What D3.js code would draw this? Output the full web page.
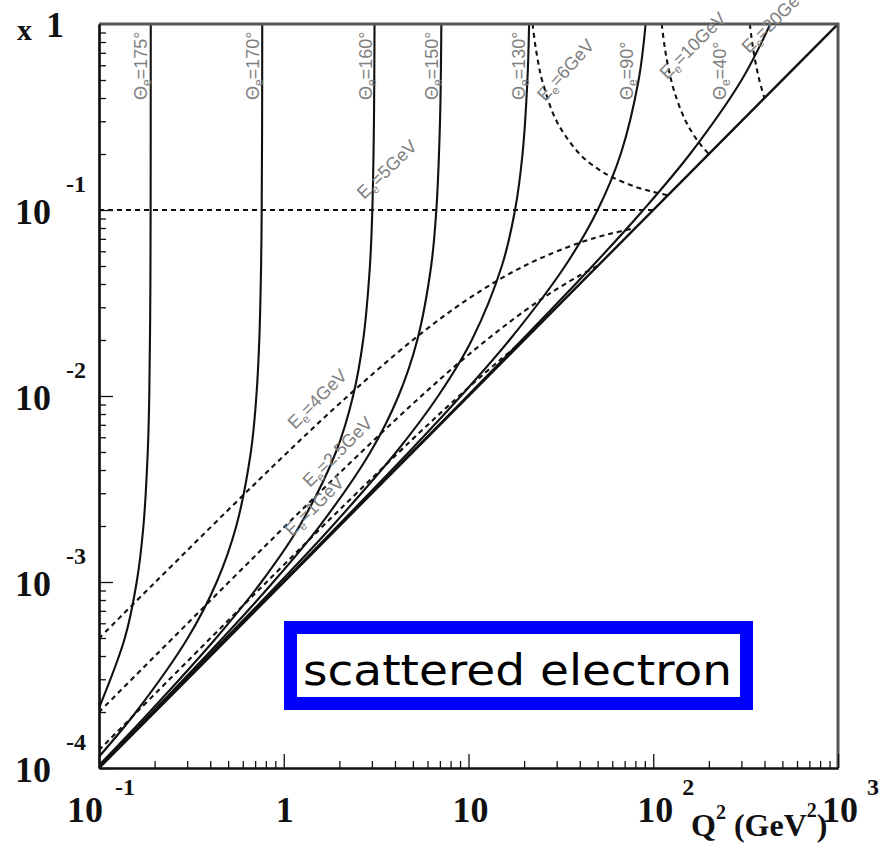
<!DOCTYPE html>
<html>
<head>
<meta charset="utf-8">
<script src="https://cdnjs.cloudflare.com/ajax/libs/d3/7.8.5/d3.min.js"></script>
<style>
  body { margin: 0; background: #fff; }
  .curve { fill: none; stroke: #111; stroke-width: 2.1; }
  .dash { fill: none; stroke: #111; stroke-width: 2.1; stroke-dasharray: 5,4; }
  .lab { font-family: "Liberation Sans", Arial, sans-serif; font-size: 18px; fill: #808080; }
  .tick-lab { font-family: "Liberation Serif", "Times New Roman", serif; font-weight: bold; fill: #111; }
</style>
</head>
<body>
<div id="chart"></div>
<script>
// constant electron angle lines, [Q2, x]
var theta175 = [[0.1,2.1e-4],[0.138,5e-4],[0.160,1e-3],[0.174,2e-3],[0.1836,5e-3],[0.1871,0.01],[0.1894,0.03],[0.1903,0.1],[0.1906,1]];
var theta170 = [[0.1,1.15e-4],[0.1586,2e-4],[0.3024,5e-4],[0.4336,1e-3],[0.5536,2e-3],[0.6638,5e-3],[0.711,0.01],[0.7372,0.02],[0.7539,0.05],[0.7596,0.1],[0.7635,0.3],[0.7648,1]];
var theta160 = [[0.1,1.033e-4],[0.1879,2e-4],[0.4307,5e-4],[0.7567,1e-3],[1.217,2e-3],[1.917,5e-3],[2.372,0.01],[2.691,0.02],[2.927,0.05],[3.016,0.1],[3.078,0.3],[3.1,1]];
var theta150 = [[0.1,1.014e-4],[0.1946,2e-4],[0.4675,5e-4],[0.8777,1e-3],[1.564,2e-3],[2.947,5e-3],[4.179,0.01],[5.283,0.02],[6.278,0.05],[6.698,0.1],[7.011,0.3],[7.128,1]];
var theta130 = [[0.1,1.005e-4],[0.956,1e-3],[1.832,2e-3],[4.065,5e-3],[6.849,0.01],[10.42,0.02],[15.15,0.05],[17.86,0.1],[19.61,0.2],[20.84,0.5],[21.28,1]];
var theta90 = [[0.1,1e-4],[0.99,1e-3],[4.762,5e-3],[9.091,0.01],[16.67,0.02],[33.33,0.05],[50,0.1],[66.67,0.2],[83.33,0.5],[90.91,1]];
var theta40 = [[0.1,1e-4],[9.87,0.01],[46.89,0.05],[88.3,0.1],[158.1,0.2],[300.8,0.5],[430.2,1]];
var thetaNames = ["175", "170", "160", "150", "130", "90", "40"];

// constant scattered electron energy lines, [Q2, x]
var energy1 = [[0.1,1.248e-4],[0.5,6.211e-4],[1,1.235e-3],[2,2.439e-3],[5,5.882e-3],[10,0.01111],[15,0.01579],[20,0.02]];
var energy25 = [[0.1,1.996e-4],[0.2,3.984e-4],[0.5,9.9e-4],[1,1.961e-3],[2,3.846e-3],[5,9.091e-3],[10,0.01667],[20,0.02857],[30,0.0375],[40,0.04444],[50,0.05]];
var energy4 = [[0.1,4.975e-4],[0.2,9.9e-4],[0.5,2.439e-3],[1,4.762e-3],[2,9.091e-3],[5,0.02],[10,0.03333],[20,0.05],[40,0.06667],[60,0.075],[80,0.08]];
var energy5 = [[0.1,0.1],[100,0.1]];
var energy6 = [[22.22,1],[23,0.767],[24,0.6],[25,0.5],[30,0.3],[40,0.2],[50,0.1667],[60,0.15],[80,0.1333],[100,0.125],[120,0.12]];
var energy10 = [[111.1,1],[115,0.7667],[120,0.6],[130,0.4333],[150,0.3],[175,0.2333],[200,0.2]];
var energy20 = [[333.3,1],[340,0.85],[350,0.7],[375,0.5],[400,0.4]];
var energyNames = ["1", "2.5", "4", "5", "6", "10", "20"];

// y = 1 kinematic limit
var yLimit = [[0.1,1e-4],[1000,1]];

var xTickLabels = [["10","-1"], ["1",""], ["10",""], ["10","2"], ["10","3"]];
var xTickValues = [0.1, 1, 10, 100, 1000];
var yTickLabels = [["10","-1"], ["10","-2"], ["10","-3"], ["10","-4"]];
var yTickValues = [0.1, 0.01, 0.001, 0.0001];

var width = 881, height = 859;
var xScale = d3.scaleLog().domain([0.1, 1000]).range([99, 838]);
var yScale = d3.scaleLog().domain([1e-4, 1]).range([768, 24]);

var svg = d3.select("#chart").append("svg")
  .attr("width", width)
  .attr("height", height);

svg.append("defs").append("clipPath")
  .attr("id", "clip")
  .append("rect")
  .attr("x", 99).attr("y", 24)
  .attr("width", 739).attr("height", 744);

var line = d3.line()
  .x(function(d) { return xScale(d[0]); })
  .y(function(d) { return yScale(d[1]); })
  .curve(d3.curveCatmullRom.alpha(0.5));

var plot = svg.append("g").attr("clip-path", "url(#clip)");

var thetaLines = [theta175, theta170, theta160, theta150, theta130, theta90, theta40];
var energyLines = [energy1, energy25, energy4, energy5, energy6, energy10, energy20];

plot.selectAll(".curve.theta")
  .data(thetaLines)
  .enter().append("path")
  .attr("class", "curve theta")
  .attr("d", line);

plot.append("path")
  .datum(yLimit)
  .attr("class", "curve")
  .style("stroke-width", 2.4)
  .attr("d", line);

plot.selectAll(".dash")
  .data(energyLines)
  .enter().append("path")
  .attr("class", "dash")
  .attr("d", line);

// frame, top and right
svg.append("path")
  .attr("d", "M99,24H838V768")
  .attr("fill", "none")
  .attr("stroke", "#555")
  .attr("stroke-width", 3);

// axes with inward ticks
var minorX = xScale.ticks().filter(function(v) { return xTickValues.indexOf(v) < 0; });
var minorY = yScale.ticks().filter(function(v) { return yTickValues.indexOf(v) < 0 && v !== 1; });

function styleAxis(g) {
  g.select(".domain").attr("stroke", "#111").attr("stroke-width", 2.2);
  g.selectAll(".tick line").attr("stroke", "#111").attr("stroke-width", 1.3);
  g.selectAll(".tick text").remove();
}

svg.append("g")
  .attr("transform", "translate(0,768)")
  .call(d3.axisBottom(xScale).tickValues(xTickValues).tickSize(-14).tickSizeOuter(0).tickFormat(""))
  .call(styleAxis);
svg.append("g")
  .attr("transform", "translate(0,768)")
  .call(d3.axisBottom(xScale).tickValues(minorX).tickSize(-7).tickSizeOuter(0).tickFormat(""))
  .call(styleAxis);
svg.append("g")
  .attr("transform", "translate(99,0)")
  .call(d3.axisLeft(yScale).tickValues(yTickValues).tickSize(-14).tickSizeOuter(0).tickFormat(""))
  .call(styleAxis);
svg.append("g")
  .attr("transform", "translate(99,0)")
  .call(d3.axisLeft(yScale).tickValues(minorY).tickSize(-7).tickSizeOuter(0).tickFormat(""))
  .call(styleAxis);

// tick labels
xTickValues.forEach(function(v, i) {
  var px = xScale(v);
  var base = xTickLabels[i][0], sup = xTickLabels[i][1];
  var shift = base === "1" ? -8 : (i === 0 ? -32 : -16);
  svg.append("text").attr("class", "tick-lab")
    .attr("x", px + shift).attr("y", 822)
    .style("font-size", "36px")
    .text(base);
  if (sup) {
    svg.append("text").attr("class", "tick-lab")
      .attr("x", px + shift + 36 + (i === 0 ? 12 : 9)).attr("y", 795)
      .style("font-size", "24px")
      .text(sup);
  }
});

yTickValues.forEach(function(v, i) {
  var py = yScale(v);
  svg.append("text").attr("class", "tick-lab")
    .attr("x", 15).attr("y", py + 14)
    .style("font-size", "36px")
    .text(yTickLabels[i][0]);
  svg.append("text").attr("class", "tick-lab")
    .attr("x", 66).attr("y", py - 18)
    .style("font-size", "24px")
    .text(yTickLabels[i][1]);
});

svg.append("text").attr("class", "tick-lab")
  .attr("x", 46).attr("y", yScale(1) + 13)
  .style("font-size", "36px").text("1");
svg.append("text").attr("class", "tick-lab")
  .attr("x", 17).attr("y", 40)
  .style("font-size", "30px").text("x");

// x axis title
var xt = svg.append("text").attr("class", "tick-lab")
  .attr("x", 691).attr("y", 836)
  .style("font-size", "32px");
xt.append("tspan").text("Q");
xt.append("tspan").attr("dy", -17).style("font-size", "20px").text("2");
xt.append("tspan").attr("dy", 17).text(" (GeV");
xt.append("tspan").attr("dy", -19).style("font-size", "20px").text("2");
xt.append("tspan").attr("dy", 19).text(")");

// theta labels, vertical, bottom end at y = 100 beside the line
var thetaLabelX = [147, 259, 372, 438, 525, 633, 726];
thetaNames.forEach(function(n, i) {
  var t = svg.append("text").attr("class", "lab")
    .attr("transform", "translate(" + thetaLabelX[i] + ",100) rotate(-90)");
  t.append("tspan").text("\u0398");
  t.append("tspan").attr("dy", 4).style("font-size", "12px").text("e");
  t.append("tspan").attr("dy", -4).text("=" + n + "\u00b0");
});

// energy labels
var energyLabelPos = [[292,537,-45], [310,488,-45], [295,430,-45], [364,200,-44], [545,102,-48], [667,80,-45], [749,54,-45]];
energyNames.forEach(function(n, i) {
  var p = energyLabelPos[i];
  var t = svg.append("text").attr("class", "lab")
    .attr("transform", "translate(" + p[0] + "," + p[1] + ") rotate(" + p[2] + ")");
  t.append("tspan").text("E");
  t.append("tspan").attr("dy", 4).style("font-size", "12px").text("e");
  t.append("tspan").attr("dy", -4).text("=" + n + "GeV");
});

// boxed caption
svg.append("rect")
  .attr("x", 290.5).attr("y", 627.5)
  .attr("width", 456).attr("height", 76)
  .attr("fill", "#fff")
  .attr("stroke", "#0000ff")
  .attr("stroke-width", 13);
svg.append("text")
  .attr("x", 303).attr("y", 685)
  .attr("textLength", 429)
  .attr("lengthAdjust", "spacingAndGlyphs")
  .style("font-family", "'Comic Sans MS', 'DejaVu Sans', sans-serif")
  .style("font-size", "42px")
  .style("fill", "#000")
  .text("scattered electron");
</script>
</body>
</html>
